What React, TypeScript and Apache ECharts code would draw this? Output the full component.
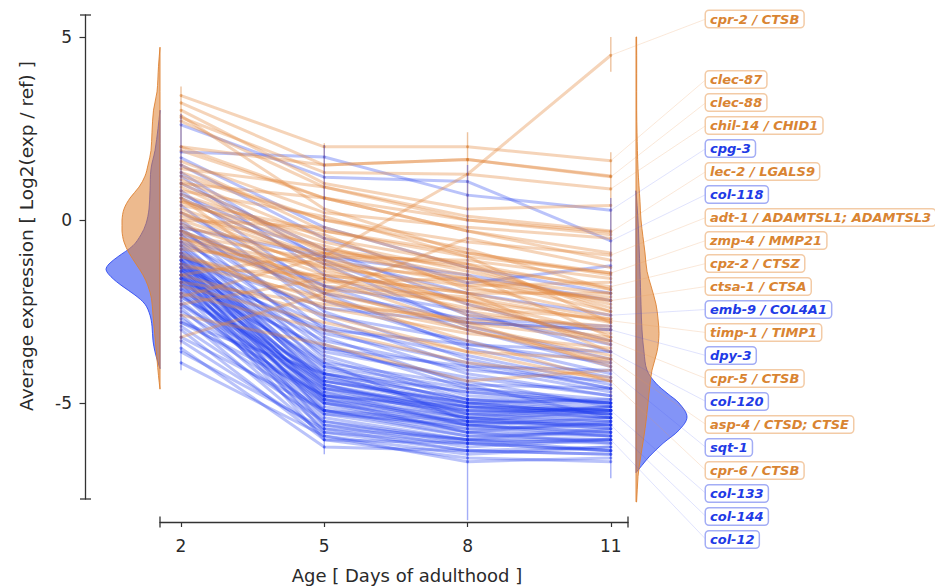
import React, { useEffect, useRef } from "react";
import * as echarts from "echarts";

// ---------- data ----------
const days = [2, 5, 8, 11];
const xTicks = [2, 5, 8, 11];
const yTicks = [-5, 0, 5];

const orangeLabelNames = [
  "cpr-2 / CTSB", "clec-87", "clec-88", "chil-14 / CHID1", "lec-2 / LGALS9",
  "adt-1 / ADAMTSL1; ADAMTSL3", "zmp-4 / MMP21", "cpz-2 / CTSZ", "ctsa-1 / CTSA",
  "timp-1 / TIMP1", "cpr-5 / CTSB", "asp-4 / CTSD; CTSE", "cpr-6 / CTSB",
];
const orangeLabelValues = [
  [-2.1, -1.0, 1.25, 4.5],
  [3.4, 2.0, 2.0, 1.62],
  [3.2, 1.5, 1.65, 1.18],
  [2.8, 1.3, 1.25, 0.85],
  [2.0, 0.6, 0.0, -0.33],
  [1.2, 0.0, -0.6, -0.96],
  [0.5, -0.3, -1.0, -1.45],
  [1.0, -0.8, -1.3, -1.82],
  [0.2, -1.1, -1.7, -2.2],
  [-0.5, -1.6, -2.2, -2.75],
  [-1.0, -2.2, -2.8, -3.3],
  [-0.3, -1.9, -3.0, -3.8],
  [-1.8, -2.8, -3.6, -4.4],
];
const orangeOtherValues = [
  [3.0, 1.0, 0.3, 0.4], [2.7, 0.9, 0.1, -0.3], [2.0, 1.5, 1.65, 1.2], [1.9, 0.6, -0.3, -0.9],
  [1.6, 0.2, -0.2, -0.5], [1.5, -0.3, -0.9, -1.5], [1.3, 0.0, -0.8, -1.9], [1.1, -0.5, -1.2, -2.5],
  [1.0, 0.6, -0.3, -1.1], [0.9, -0.9, -1.6, -2.0], [0.8, 0.1, -1.0, -2.8], [0.7, -0.6, -1.4, -2.3],
  [0.6, -1.2, -2.0, -2.7], [0.5, -0.8, -1.5, -3.2], [0.4, -0.4, -1.9, -2.1], [0.3, -1.0, -1.1, -1.6],
  [0.2, -1.4, -2.2, -3.4], [0.1, -0.7, -1.8, -2.6], [0.0, -1.3, -2.5, -3.0], [0.0, -0.2, -1.3, -2.4],
  [-0.1, -1.5, -2.0, -3.6], [-0.2, -0.9, -2.6, -2.9], [-0.3, -1.7, -1.6, -2.2], [-0.4, -1.1, -2.3, -3.3],
  [-0.5, -2.0, -2.8, -4.0], [-0.5, -1.3, -1.8, -1.7], [-0.6, -1.8, -2.1, -2.8], [-0.7, -1.6, -2.9, -3.7],
  [-0.8, -1.2, -1.6, -2.5], [-0.9, -2.4, -3.1, -3.5], [-1.0, -1.9, -2.2, -3.1], [-1.2, -2.1, -3.3, -4.4],
  [-1.3, -1.5, -2.0, -2.0], [-1.5, -2.6, -3.6, -3.8], [-1.7, -2.3, -2.7, -3.2], [-2.0, -3.0, -3.9, -4.3],
  [-2.3, -1.6, -2.4, -2.7], [-2.6, -3.4, -4.4, -4.1], [-3.2, -2.0, -0.5, -1.3], [2.85, 0.3, -0.9, -1.45],
  [1.4, 0.9, 0.0, -0.4], [-1.5, -0.9, -1.2, -1.9], [0.6, -2.2, -3.0, -3.9],
];

const blueLabelNames = ["cpg-3", "col-118", "emb-9 / COL4A1", "dpy-3", "col-120", "sqt-1", "col-133", "col-144", "col-12"];
const blueLabelValues = [
  [1.86, 1.72, 0.68, 0.27],
  [2.6, 1.17, 1.05, -0.57],
  [-0.2, -1.0, -2.0, -2.6],
  [-1.0, -2.4, -2.8, -3.0],
  [-1.3, -3.0, -3.4, -3.6],
  [-1.6, -3.5, -4.0, -4.1],
  [-2.8, -4.8, -5.1, -5.2],
  [-3.2, -5.2, -5.5, -5.6],
  [-3.6, -5.7, -6.0, -6.0],
];
const blueOtherValues = [
  [1.5, -0.5, -1.72, -1.25], [1.2, -1.5, -2.8, -3.0], [1.0, -0.8, -2.3, -3.3], [0.8, -2.0, -3.5, -4.3],
  [0.6, -1.2, -2.9, -3.8], [0.4, -2.5, -3.8, -4.6], [0.2, -1.8, -3.0, -4.0], [0.0, -3.0, -4.2, -4.8],
  [-0.1, -2.2, -3.4, -3.9], [-0.2, -3.4, -4.6, -5.0], [-0.3, -2.7, -4.0, -4.7], [-0.4, -3.8, -4.9, -5.2],
  [-0.5, -3.2, -4.5, -5.4], [-0.6, -4.0, -5.0, -4.9], [-0.7, -3.5, -4.4, -5.1], [-0.8, -4.2, -5.3, -5.5],
  [-0.8, -3.7, -4.8, -5.0], [-0.9, -4.4, -5.1, -5.3], [-0.9, -3.9, -5.5, -5.6], [-1.0, -4.6, -5.2, -5.2],
  [-1.0, -4.1, -4.7, -5.0], [-1.1, -4.8, -5.6, -5.8], [-1.1, -4.3, -5.0, -5.3], [-1.2, -4.5, -5.4, -5.1],
  [-1.2, -5.0, -5.8, -5.9], [-1.3, -4.7, -5.3, -5.4], [-1.3, -3.3, -4.1, -4.4], [-1.3, -4.9, -5.5, -5.7],
  [-1.4, -4.4, -5.0, -5.2], [-1.4, -5.2, -5.9, -6.0], [-1.5, -4.6, -5.4, -5.5], [-1.5, -4.0, -4.6, -4.9],
  [-1.5, -5.1, -5.7, -5.6], [-1.6, -4.8, -5.2, -5.3], [-1.6, -5.4, -6.0, -6.1], [-1.7, -4.3, -5.1, -5.4],
  [-1.7, -5.0, -5.5, -5.2], [-1.8, -4.7, -5.6, -5.8], [-1.8, -5.5, -6.1, -6.3], [-1.9, -4.5, -5.3, -5.1],
  [-1.9, -5.2, -5.8, -5.5], [-2.0, -4.9, -5.4, -5.7], [-2.0, -5.6, -6.2, -6.0], [-2.1, -4.4, -5.0, -5.3],
  [-2.2, -5.3, -5.9, -5.8], [-2.3, -5.0, -5.6, -5.4], [-2.4, -5.7, -6.3, -6.4], [-2.5, -4.8, -5.4, -5.6],
  [-2.6, -5.9, -6.4, -6.2], [-2.7, -5.2, -5.7, -5.9], [-2.9, -5.5, -6.0, -6.3], [-3.0, -6.0, -6.5, -6.6],
  [-3.3, -5.8, -6.1, -6.0], [-3.5, -6.2, -6.3, -6.4], [-3.9, -5.9, -6.6, -6.5], [0.7, -1.0, -1.5, -2.2],
  [-0.3, -1.8, -2.5, -3.6], [-0.6, -2.6, -3.3, -4.2], [-1.0, -2.9, -3.7, -4.5], [-1.2, -3.1, -3.9, -4.6],
  [-1.4, -3.6, -4.3, -4.8], [-1.6, -3.9, -4.5, -4.6], [-0.9, -4.9, -5.8, -6.1], [-1.1, -5.3, -5.6, -5.9],
  [-1.3, -5.6, -6.0, -5.7], [-1.5, -5.8, -6.3, -6.2], [-1.7, -6.0, -6.1, -6.3], [-2.1, -4.2, -4.9, -5.0],
  [-2.3, -4.6, -5.1, -5.2], [-0.7, -4.5, -5.2, -5.4], [-1.1, -4.2, -4.9, -5.1], [1.7, -0.2, -1.3, -2.0],
  [1.3, -1.1, -2.6, -3.4], [-0.4, -2.0, -2.7, -2.9], [-2.8, -4.2, -4.7, -5.0],
];

// spread of the per-gene error bars at each day: [day, low, high]
const orangeBars = [[2, -3.4, 3.65], [5, -3.9, 2.1], [8, -4.7, 2.4], [11, -4.9, 1.85], [11, 4.05, 5.0]];
const blueBars = [[2, -4.1, 2.9], [5, -6.4, 2.05], [8, -8.2, 1.5], [11, -7.05, 0.6]];

// half-violin density profiles: [expression, density width]
const leftOrangeViolin = [
  [4.72, 0], [4.2, 1.5], [3.5, 3], [3.0, 6.5], [2.4, 8], [1.9, 9], [1.5, 12], [1.2, 15], [0.9, 21],
  [0.6, 30], [0.3, 36], [0.0, 38], [-0.3, 38], [-0.6, 36], [-0.9, 31], [-1.2, 24], [-1.5, 17],
  [-1.8, 12], [-2.15, 8.5], [-2.6, 7], [-3.2, 5], [-3.8, 3], [-4.25, 1.5], [-4.62, 0],
];
const leftBlueViolin = [
  [3.0, 0], [2.5, 2], [1.9, 5], [1.4, 9], [0.8, 10], [0.3, 11], [-0.1, 14], [-0.4, 19], [-0.7, 27],
  [-1.0, 42], [-1.2, 51], [-1.35, 54], [-1.55, 49], [-1.8, 38], [-2.05, 25], [-2.3, 15], [-2.6, 10],
  [-2.9, 8], [-3.3, 7], [-3.6, 5], [-3.85, 2.5], [-4.06, 0],
];
const rightOrangeViolin = [
  [5.0, 0.6], [3.0, 0.7], [2.4, 1], [1.4, 2], [0.5, 4], [0.0, 5], [-0.9, 9], [-1.4, 11], [-1.8, 15],
  [-2.3, 20], [-2.7, 22], [-3.1, 23], [-3.6, 21], [-4.1, 16], [-4.5, 14], [-5.0, 12], [-5.5, 10],
  [-5.9, 8], [-6.5, 4.5], [-7.0, 2], [-7.7, 0.6],
];
const rightBlueViolin = [
  [0.8, 0], [0.0, 2], [-1.4, 4], [-2.3, 5], [-3.0, 6], [-3.6, 8], [-4.1, 11], [-4.46, 20], [-4.75, 32],
  [-5.0, 43], [-5.38, 51], [-5.74, 43], [-6.1, 27], [-6.47, 13], [-6.7, 6], [-6.9, 0],
];

// ---------- layout ----------
const PLOT_LEFT = 82;
const PLOT_RIGHT = 720;
const PLOT_TOP = 15;
const PLOT_BOTTOM = 499;
const Y_MIN = -7.62;
const Y_MAX = 5.6;
const AX_LEFT = 160;
const AX_RIGHT = 628;
const AX_Y = 522;
const X_MIN = 1.56;
const X_MAX = 11.36;
const PX_PER_X = (AX_RIGHT - AX_LEFT) / (X_MAX - X_MIN);
const MAIN_X_MIN = X_MIN - (AX_LEFT - PLOT_LEFT) / PX_PER_X;
const MAIN_X_MAX = X_MIN + (PLOT_RIGHT - AX_LEFT) / PX_PER_X;
const LEFT_VIOLIN_BASE = X_MIN;
const RIGHT_VIOLIN_BASE = X_MIN + (636 - AX_LEFT) / PX_PER_X;
const LABEL_X = 706;
const FIRST_LABEL_Y = 19;
const LABEL_TOP = 79.5;
const LABEL_STEP = 23;

const FONT = "DejaVu Sans";
const AXIS_COLOR = "#333";
const TEXT_COLOR = "#2a2a2a";

const ORANGE_LINE = "rgba(226,135,60,0.36)";
const ORANGE_DOT = "rgba(214,120,40,0.5)";
const BLUE_LINE = "rgba(25,55,240,0.3)";
const BLUE_DOT = "rgba(20,45,235,0.45)";

export default function App() {
  const ref = useRef<HTMLDivElement>(null);

  useEffect(() => {
    document.body.style.margin = "0";
    const chart = echarts.init(ref.current as HTMLDivElement, null, { renderer: "svg" });

    const lineSeries = (vals: number[], line: string, dot: string) => ({
      type: "line",
      xAxisIndex: 0,
      yAxisIndex: 0,
      silent: true,
      data: days.map((d, i) => [d, vals[i]]),
      symbol: "circle",
      symbolSize: 3,
      showSymbol: true,
      lineStyle: { color: line, width: 3 },
      itemStyle: { color: dot },
      z: 3,
    });

    const violinSeries = (profile: number[][], base: number, dir: number, fill: string, stroke: string, z: number) => ({
      type: "custom",
      xAxisIndex: 0,
      yAxisIndex: 0,
      silent: true,
      z,
      data: [[base, profile[0][0]]],
      renderItem: (_p: any, api: any) => {
        const pts: number[][] = [];
        pts.push(api.coord([base, profile[0][0]]));
        for (const [y, w] of profile) pts.push(api.coord([base + (dir * w) / PX_PER_X, y]));
        pts.push(api.coord([base, profile[profile.length - 1][0]]));
        let minX = Infinity, minY = Infinity, maxX = -Infinity, maxY = -Infinity;
        for (const p of pts) {
          minX = Math.min(minX, p[0]); maxX = Math.max(maxX, p[0]);
          minY = Math.min(minY, p[1]); maxY = Math.max(maxY, p[1]);
        }
        return {
          type: "polygon",
          shape: { points: pts, smooth: 0.35, smoothConstraint: [[minX, minY], [maxX, maxY]] },
          style: { fill, stroke, lineWidth: 1 },
        };
      },
    });

    const barSeries = (bars: number[][], color: string) => ({
      type: "custom",
      xAxisIndex: 0,
      yAxisIndex: 0,
      silent: true,
      z: 4,
      data: bars,
      renderItem: (_p: any, api: any) => {
        const a = api.coord([api.value(0), api.value(1)]);
        const b = api.coord([api.value(0), api.value(2)]);
        return {
          type: "line",
          shape: { x1: a[0], y1: a[1], x2: b[0], y2: b[1] },
          style: { stroke: color, lineWidth: 1.4 },
        };
      },
    });

    const labeled = [
      ...orangeLabelNames.map((n, i) => ({ name: n, vals: orangeLabelValues[i], kind: "o" })),
      ...blueLabelNames.map((n, i) => ({ name: n, vals: blueLabelValues[i], kind: "b" })),
    ].sort((a, b) => b.vals[3] - a.vals[3]);

    const series: any[] = [];
    series.push(violinSeries(leftBlueViolin, LEFT_VIOLIN_BASE, -1, "rgba(30,60,240,0.55)", "rgba(30,60,240,0.8)", 1));
    series.push(violinSeries(leftOrangeViolin, LEFT_VIOLIN_BASE, -1, "rgba(222,130,50,0.55)", "rgba(222,130,50,0.9)", 2));
    series.push(violinSeries(rightBlueViolin, RIGHT_VIOLIN_BASE, 1, "rgba(30,60,240,0.55)", "rgba(30,60,240,0.8)", 1));
    series.push(violinSeries(rightOrangeViolin, RIGHT_VIOLIN_BASE, 1, "rgba(222,130,50,0.55)", "rgba(222,130,50,0.9)", 2));

    blueOtherValues.forEach((v) => series.push(lineSeries(v, BLUE_LINE, BLUE_DOT)));
    blueLabelValues.forEach((v) => series.push(lineSeries(v, BLUE_LINE, BLUE_DOT)));
    orangeOtherValues.forEach((v) => series.push(lineSeries(v, ORANGE_LINE, ORANGE_DOT)));
    orangeLabelValues.forEach((v) => series.push(lineSeries(v, ORANGE_LINE, ORANGE_DOT)));

    series.push(barSeries(orangeBars, "rgba(215,120,40,0.45)"));
    series.push(barSeries(blueBars, "rgba(25,50,235,0.4)"));

    series.push({
      type: "custom",
      xAxisIndex: 0,
      yAxisIndex: 0,
      silent: true,
      z: 6,
      data: labeled.map((l) => [days[3], l.vals[3]]),
      renderItem: (params: any, api: any) => {
        const item = labeled[params.dataIndex];
        const p = api.coord([api.value(0), api.value(1)]);
        const ly = params.dataIndex === 0 ? FIRST_LABEL_Y : LABEL_TOP + (params.dataIndex - 1) * LABEL_STEP;
        const isO = item.kind === "o";
        return {
          type: "group",
          children: [
            {
              type: "line",
              shape: { x1: p[0], y1: p[1], x2: LABEL_X, y2: ly },
              style: { stroke: isO ? "rgba(230,150,80,0.22)" : "rgba(60,80,240,0.16)", lineWidth: 1 },
            },
            {
              type: "text",
              x: LABEL_X,
              y: ly,
              style: {
                text: item.name,
                fill: isO ? "#d98432" : "#1f3be6",
                fontFamily: FONT,
                fontSize: 13,
                fontWeight: "bold",
                fontStyle: "italic",
                backgroundColor: "#ffffff",
                borderColor: isO ? "#f3cba6" : "#a3adf5",
                borderWidth: 1.5,
                borderRadius: 3,
                padding: [2, 4, 1, 4],
                align: "left",
                verticalAlign: "middle",
              },
            },
          ],
        };
      },
    });

    const option: any = {
      animation: false,
      backgroundColor: "#ffffff",
      grid: [
        { left: PLOT_LEFT, top: PLOT_TOP, width: PLOT_RIGHT - PLOT_LEFT, height: PLOT_BOTTOM - PLOT_TOP },
        { left: AX_LEFT, top: PLOT_TOP, width: AX_RIGHT - AX_LEFT, height: AX_Y - PLOT_TOP },
      ],
      xAxis: [
        { gridIndex: 0, type: "value", min: MAIN_X_MIN, max: MAIN_X_MAX, show: false },
        {
          gridIndex: 1,
          type: "value",
          min: X_MIN,
          max: X_MAX,
          position: "bottom",
          axisLine: {
            show: true,
            lineStyle: { color: AXIS_COLOR, width: 1.3 },
            symbol: ["rect", "rect"],
            symbolSize: [11, 1.3],
          },
          axisTick: { show: true, customValues: xTicks, length: 5, lineStyle: { color: AXIS_COLOR, width: 1.2 } },
          axisLabel: { show: true, customValues: xTicks, margin: 15, fontSize: 17, color: TEXT_COLOR, fontFamily: FONT },
          splitLine: { show: false },
        },
      ],
      yAxis: [
        {
          gridIndex: 0,
          type: "value",
          min: Y_MIN,
          max: Y_MAX,
          position: "left",
          axisLine: {
            show: true,
            lineStyle: { color: AXIS_COLOR, width: 1.3 },
            symbol: ["rect", "rect"],
            symbolSize: [11, 1.3],
          },
          axisTick: { show: true, customValues: yTicks, length: 6, lineStyle: { color: AXIS_COLOR, width: 1.2 } },
          axisLabel: { show: true, customValues: yTicks, margin: 10, fontSize: 17, color: TEXT_COLOR, fontFamily: FONT },
          splitLine: { show: false },
        },
        { gridIndex: 1, type: "value", min: 0, max: 1, show: false },
      ],
      graphic: [
        {
          type: "text",
          x: 26,
          y: 236,
          rotation: Math.PI / 2,
          style: {
            text: "Average expression [ Log2(exp / ref) ]",
            fill: TEXT_COLOR,
            fontFamily: FONT,
            fontSize: 18.5,
            align: "center",
            verticalAlign: "middle",
          },
        },
        {
          type: "text",
          x: 407,
          y: 575,
          style: {
            text: "Age [ Days of adulthood ]",
            fill: TEXT_COLOR,
            fontFamily: FONT,
            fontSize: 18,
            align: "center",
            verticalAlign: "middle",
          },
        },
      ],
      series,
    };

    chart.setOption(option);
    return () => chart.dispose();
  }, []);

  return <div ref={ref} style={{ width: 935, height: 586 }} />;
}
